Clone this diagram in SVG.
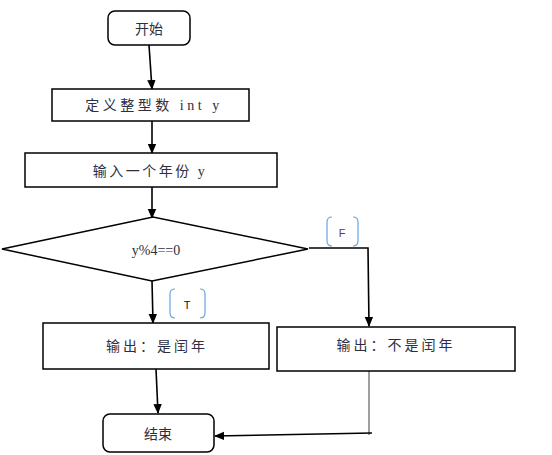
<svg xmlns="http://www.w3.org/2000/svg" width="552" height="455" viewBox="0 0 552 455">
<style>
.box{fill:#fff;stroke:#000;stroke-width:1.5}
.t{font-family:"Liberation Serif","Noto Sans CJK SC",serif;font-size:14px;fill:#2e2e40;text-anchor:middle;dominant-baseline:central}
.ln{fill:none;stroke:#000;stroke-width:1.6}
.br{fill:none;stroke:#6aa5dc;stroke-width:1.2}
.lbl{font-family:"Liberation Sans","Noto Sans CJK SC",sans-serif;font-size:11px;text-anchor:middle;dominant-baseline:central}
</style>
<defs>
<marker id="ah" markerWidth="10" markerHeight="10" refX="9" refY="5" orient="auto" markerUnits="userSpaceOnUse">
<path d="M0,0.8 L10,5 L0,9.2 Z" fill="#000"/>
</marker>
</defs>
<g id="connectors">
<path class="ln" d="M149,45 L152,89" marker-end="url(#ah)"/>
<path class="ln" d="M152,121 L152,153" marker-end="url(#ah)"/>
<path class="ln" d="M152,187 L152,218" marker-end="url(#ah)"/>
<path class="ln" d="M152,281 L153,323" marker-end="url(#ah)"/>
<path class="ln" d="M309,248 L368,248 L369,326" marker-end="url(#ah)"/>
<path class="ln" d="M156,369 L158,413" marker-end="url(#ah)"/>
<path fill="none" stroke="#777" stroke-width="1.4" d="M369,371 L369,435"/>
<path class="ln" d="M372,433 L215,436" marker-end="url(#ah)"/>
</g>
<g id="start">
<rect class="box" x="108" y="11" width="82" height="34" rx="7"/>
<text class="t" x="149" y="29">开始</text>
</g>
<g id="declare">
<rect class="box" x="52" y="89" width="197" height="32"/>
<text class="t" x="154" y="105" letter-spacing="3.5">定义整型数 int y</text>
</g>
<g id="input">
<rect class="box" x="25" y="153" width="252" height="34"/>
<text class="t" x="150" y="171" letter-spacing="2.5">输入一个年份 y</text>
</g>
<g id="decision">
<polygon class="box" points="2,249 153,217 308,249 152,281"/>
<text class="t" x="156" y="250" font-size="15">y%4==0</text>
</g>
<g id="labelF">
<path class="br" d="M332,217 Q327,217 327,222 L327,241 Q327,246 332,246 M353,217 Q358,217 358,222 L358,241 Q358,246 353,246"/>
<text class="lbl" x="342" y="233" fill="#6b3f16">F</text>
</g>
<g id="labelT">
<path class="br" d="M175,289 Q170,289 170,294 L170,313 Q170,318 175,318 M200,289 Q205,289 205,294 L205,313 Q205,318 200,318"/>
<text class="lbl" x="187" y="305" fill="#111">T</text>
</g>
<g id="leap">
<rect class="box" x="43" y="323" width="226" height="46"/>
<text class="t" x="157" y="346" letter-spacing="3">输出：是闰年</text>
</g>
<g id="notleap">
<rect class="box" x="277" y="327" width="238" height="44"/>
<text class="t" x="396" y="345" letter-spacing="3">输出：不是闰年</text>
</g>
<g id="end">
<rect class="box" x="103" y="414" width="111" height="38" rx="7"/>
<text class="t" x="158" y="434">结束</text>
</g>
</svg>
